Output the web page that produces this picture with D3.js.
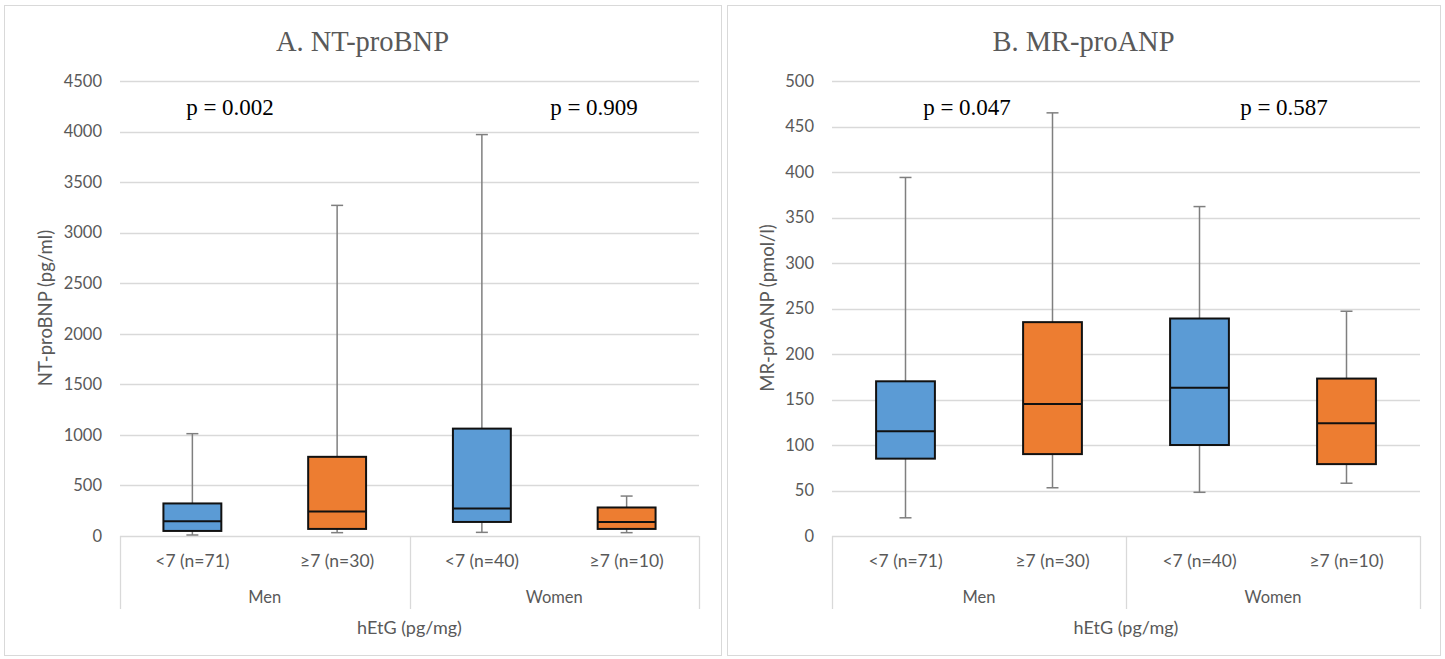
<!DOCTYPE html>
<html>
<head>
<meta charset="utf-8">
<script src="https://cdn.jsdelivr.net/npm/d3@7"></script>
<style>
  body { margin: 0; background: #fff; }
  svg { display: block; }
</style>
</head>
<body>
<svg id="chart" width="1445" height="659"></svg>
<script>
// categories shared by both panels
const categories = ["<7 (n=71)", "≥7 (n=30)", "<7 (n=40)", "≥7 (n=10)"];
const groups = ["Men", "Women"];
const boxColors = ["#5b9bd5", "#ed7d31", "#5b9bd5", "#ed7d31"];

// panel A: NT-proBNP (pg/ml)  [min, q1, median, q3, max]
const bnpMin    = [10, 33, 36, 33];
const bnpQ1     = [50, 70, 139, 70];
const bnpMedian = [146, 242, 272, 139];
const bnpQ3     = [322, 783, 1062, 282];
const bnpMax    = [1012, 3270, 3970, 395];
const bnpTicks  = [0, 500, 1000, 1500, 2000, 2500, 3000, 3500, 4000, 4500];
const bnpP      = ["p = 0.002", "p = 0.909"];

// panel B: MR-proANP (pmol/l)
const anpMin    = [20, 53, 48, 58];
const anpQ1     = [85, 90, 100, 79];
const anpMedian = [115, 145, 163, 124];
const anpQ3     = [170, 235, 239, 173];
const anpMax    = [394, 465, 362, 247];
const anpTicks  = [0, 50, 100, 150, 200, 250, 300, 350, 400, 450, 500];
const anpP      = ["p = 0.047", "p = 0.587"];

const svg = d3.select("#chart");
const sans = "Lato, 'Open Sans', sans-serif";
const serif = "'Liberation Serif', 'Times New Roman', serif";

function drawPanel(opt) {
    let g = svg.append("g");

    // panel frame
    g.append("rect")
        .attr("x", opt.frame[0] + 0.5).attr("y", 5.5)
        .attr("width", opt.frame[1] - opt.frame[0]).attr("height", 650)
        .attr("fill", "none").attr("stroke", "#d9d9d9");

    let x = d3.scaleBand().domain(categories).range([opt.left, opt.right]);
    let y = d3.scaleLinear()
        .domain([0, d3.max(opt.ticks)])
        .range([536, 81]);

    // gridlines
    g.selectAll("line.grid")
        .data(opt.ticks)
        .enter()
        .append("line")
        .attr("x1", opt.left).attr("x2", opt.right)
        .attr("y1", d => Math.round(y(d)) + 0.5)
        .attr("y2", d => Math.round(y(d)) + 0.5)
        .attr("stroke", "#d9d9d9").attr("stroke-width", 1.3);

    // y axis labels
    let yAxis = d3.axisLeft(y).tickValues(opt.ticks).tickFormat(d3.format("d"))
        .tickSize(0).tickPadding(18);
    let ya = g.append("g")
        .attr("transform", "translate(" + opt.left + ",0)")
        .call(yAxis);
    ya.select(".domain").remove();
    ya.selectAll("text")
        .attr("font-family", sans)
        .attr("font-size", 16.5)
        .attr("fill", "#595959");

    // y title
    g.append("text")
        .attr("transform", "translate(" + opt.yTitleX + ",308) rotate(-90)")
        .attr("text-anchor", "middle")
        .attr("font-family", sans)
        .attr("font-size", 18.5)
        .attr("fill", "#595959")
        .text(opt.yTitle);

    // title
    g.append("text")
        .attr("x", (opt.frame[0] + opt.frame[1]) / 2)
        .attr("y", 51)
        .attr("text-anchor", "middle")
        .attr("font-family", serif)
        .attr("font-size", 28.5)
        .attr("fill", "#595959")
        .text(opt.title);

    // category axis box lines
    let mid = (opt.left + opt.right) / 2;
    [opt.left, mid, opt.right].forEach(xx => {
        g.append("line")
            .attr("x1", Math.round(xx) + 0.5).attr("x2", Math.round(xx) + 0.5)
            .attr("y1", 536).attr("y2", 609)
            .attr("stroke", "#d9d9d9").attr("stroke-width", 1.3);
    });

    g.selectAll("text.cat")
        .data(categories)
        .enter()
        .append("text")
        .attr("x", d => x(d) + x.bandwidth() / 2)
        .attr("y", 567)
        .attr("text-anchor", "middle")
        .attr("font-family", sans)
        .attr("font-size", 17.5)
        .attr("fill", "#595959")
        .text(d => d);

    g.selectAll("text.grp")
        .data(groups)
        .enter()
        .append("text")
        .attr("x", (d, i) => opt.left + (opt.right - opt.left) * (i * 2 + 1) / 4)
        .attr("y", 603)
        .attr("text-anchor", "middle")
        .attr("font-family", sans)
        .attr("font-size", 16.5)
        .attr("fill", "#595959")
        .text(d => d);

    g.append("text")
        .attr("x", mid).attr("y", 634)
        .attr("text-anchor", "middle")
        .attr("font-family", sans)
        .attr("font-size", 18)
        .attr("fill", "#595959")
        .text("hEtG (pg/mg)");

    // boxes
    let boxW = x.bandwidth() * 0.4;
    let capW = 12;
    categories.forEach((c, i) => {
        let cx = x(c) + x.bandwidth() / 2;
        let bg = g.append("g");
        // whiskers
        bg.append("line")
            .attr("x1", cx).attr("x2", cx)
            .attr("y1", y(opt.max[i])).attr("y2", y(opt.q3[i]))
            .attr("stroke", "#7f7f7f").attr("stroke-width", 1.5);
        bg.append("line")
            .attr("x1", cx).attr("x2", cx)
            .attr("y1", y(opt.q1[i])).attr("y2", y(opt.min[i]))
            .attr("stroke", "#7f7f7f").attr("stroke-width", 1.5);
        [opt.max[i], opt.min[i]].forEach(v => {
            bg.append("line")
                .attr("x1", cx - capW / 2).attr("x2", cx + capW / 2)
                .attr("y1", y(v)).attr("y2", y(v))
                .attr("stroke", "#7f7f7f").attr("stroke-width", 1.5);
        });
        bg.append("rect")
            .attr("x", cx - boxW / 2)
            .attr("y", y(opt.q3[i]))
            .attr("width", boxW)
            .attr("height", y(opt.q1[i]) - y(opt.q3[i]))
            .attr("fill", boxColors[i])
            .attr("stroke", "#111").attr("stroke-width", 2);
        bg.append("line")
            .attr("x1", cx - boxW / 2).attr("x2", cx + boxW / 2)
            .attr("y1", y(opt.median[i])).attr("y2", y(opt.median[i]))
            .attr("stroke", "#111").attr("stroke-width", 2);
    });

    // p values
    g.selectAll("text.p")
        .data(opt.p)
        .enter()
        .append("text")
        .attr("x", (d, i) => opt.pX[i])
        .attr("y", 115)
        .attr("text-anchor", "middle")
        .attr("font-family", serif)
        .attr("font-size", 23)
        .attr("fill", "#000")
        .text(d => d);
}

drawPanel({
    frame: [4, 721], left: 120, right: 699,
    ticks: bnpTicks, min: bnpMin, q1: bnpQ1, median: bnpMedian, q3: bnpQ3, max: bnpMax,
    title: "A. NT-proBNP", yTitle: "NT-proBNP (pg/ml)", yTitleX: 52,
    p: bnpP, pX: [230, 594]
});

drawPanel({
    frame: [727, 1440], left: 832, right: 1420,
    ticks: anpTicks, min: anpMin, q1: anpQ1, median: anpMedian, q3: anpQ3, max: anpMax,
    title: "B. MR-proANP", yTitle: "MR-proANP (pmol/l)", yTitleX: 774,
    p: anpP, pX: [967, 1284]
});
</script>
</body>
</html>
